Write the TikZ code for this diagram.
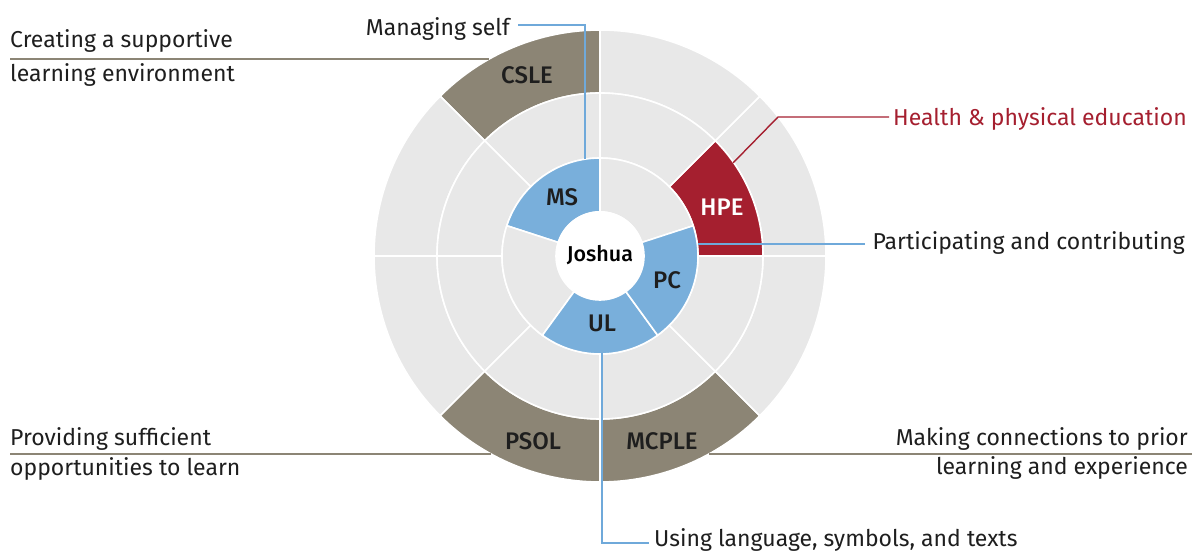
\documentclass[tikz,border=0pt]{standalone}
\usepackage{fontspec}
\setmainfont{Fira Sans}
\newfontface\segfont{Fira Sans Medium}
\usetikzlibrary{positioning}

\definecolor{ringgray}{HTML}{E8E8E8}
\definecolor{taupe}{HTML}{8C8575}
\definecolor{hpered}{HTML}{A51F2F}
\definecolor{msblue}{HTML}{79AFDB}
\definecolor{leaderblue}{HTML}{6FA9DA}
\definecolor{ink}{HTML}{1E1E1E}

% ring segment: fill, inner r, outer r, start angle, end angle
\newcommand{\ringseg}[5]{%
  \filldraw[segment, fill=#1] (#4:#2pt) arc[start angle=#4, end angle=#5, radius=#2pt]
    -- (#5:#3pt) arc[start angle=#5, end angle=#4, radius=#3pt] -- cycle;}

\begin{document}
\begin{tikzpicture}[x=1pt,y=1pt,
  segment/.style={draw=white, line width=1.6pt},
  seglabel/.style={font=\segfont\fontsize{24}{26}\selectfont, text=ink, inner sep=0pt},
  sidetext/.style={font=\fontsize{23}{27}\selectfont, text=ink, inner sep=0pt},
  blueline/.style={draw=leaderblue, line width=1.4pt},
  taupeline/.style={draw=taupe, line width=2pt},
  redline/.style={draw=hpered, line width=1.4pt}]
\useasboundingbox (0,0) rectangle (1192,556);

\begin{scope}[shift={(600,300)}]
% outer ring
\ringseg{ringgray}{163}{226}{0}{45}
\ringseg{ringgray}{163}{226}{45}{90}
\ringseg{taupe}{163}{226}{90}{135}
\ringseg{ringgray}{163}{226}{135}{180}
\ringseg{ringgray}{163}{226}{180}{225}
\ringseg{taupe}{163}{226}{225}{270}
\ringseg{taupe}{163}{226}{270}{315}
\ringseg{ringgray}{163}{226}{315}{360}
% middle ring
\ringseg{hpered}{98}{163}{0}{45}
\ringseg{ringgray}{98}{163}{45}{90}
\ringseg{ringgray}{98}{163}{90}{135}
\ringseg{ringgray}{98}{163}{135}{180}
\ringseg{ringgray}{98}{163}{180}{225}
\ringseg{ringgray}{98}{163}{225}{270}
\ringseg{ringgray}{98}{163}{270}{315}
\ringseg{ringgray}{98}{163}{315}{360}
% inner ring
\ringseg{ringgray}{44}{98}{18}{90}
\ringseg{msblue}{44}{98}{90}{162}
\ringseg{ringgray}{44}{98}{162}{234}
\ringseg{msblue}{44}{98}{234}{306}
\ringseg{msblue}{44}{98}{306}{378}
\end{scope}

\node[circle, fill=white, minimum size=88pt, inner sep=0pt,
  font=\segfont\fontsize{21.5}{23}\selectfont, text=black] (joshua) at (600,301) {Joshua};

% segment labels
\node[seglabel] (csle) at (527,481) {CSLE};
\node[seglabel] (psol) at (533,115) {PSOL};
\node[seglabel] (mcple) at (662,115) {MCPLE};
\node[seglabel, text=white] (hpe) at (722,349) {HPE};
\node[seglabel] (ms) at (562,359) {MS};
\node[seglabel] (pc) at (667,276) {PC};
\node[seglabel] (ul) at (602,233) {UL};

% side texts
\node[sidetext, anchor=base west] (cslea) at (10,508) {Creating a supportive};
\node[sidetext, anchor=base west] (csleb) at (10,474) {learning environment};
\node[sidetext, anchor=base west] (psola) at (10,110) {Providing sufficient};
\node[sidetext, anchor=base west] (psolb) at (10,80) {opportunities to learn};
\node[sidetext, anchor=base east] (mcplea) at (1188,110) {Making connections to prior};
\node[sidetext, anchor=base east] (mcpleb) at (1188,81) {learning and experience};
\node[sidetext, anchor=base east] (mstext) at (510,520) {Managing self};
\node[sidetext, anchor=base east, text=hpered] (hpetext) at (1187,430) {Health \& physical education};
\node[sidetext, anchor=base east] (pctext) at (1185,306) {Participating and contributing};
\node[sidetext, anchor=base west] (ultext) at (654,9) {Using language, symbols, and texts};

% leader lines
\coordinate (csleleft) at (10,497);
\coordinate (csleedge) at (489,497);
\coordinate (psolleft) at (10,102);
\coordinate (psoledge) at (491,102);
\coordinate (mcpleedge) at (709,102);
\coordinate (mcpleright) at (1192,102);
\coordinate (msedge) at (585,397);
\coordinate (hpeedge) at (733,393);
\coordinate (hpeknee) at (778,439);
\coordinate (pcedge) at (698,312);
\coordinate (uledge) at (602,203);

\draw[taupeline] (csleleft) -- (csleedge);
\draw[taupeline] (psolleft) -- (psoledge);
\draw[taupeline] (mcpleedge) -- (mcpleright);
\draw[blueline] ([xshift=8pt, yshift=11pt]mstext.base east) -| (msedge);
\draw[redline] (hpeedge) -- (hpeknee) -- ([xshift=-4pt, yshift=9pt]hpetext.base west);
\draw[blueline] (pcedge) -- ([xshift=-7pt, yshift=6pt]pctext.base west);
\draw[blueline] (uledge) |- ([xshift=-5pt, yshift=4pt]ultext.base west);
\end{tikzpicture}
\end{document}
